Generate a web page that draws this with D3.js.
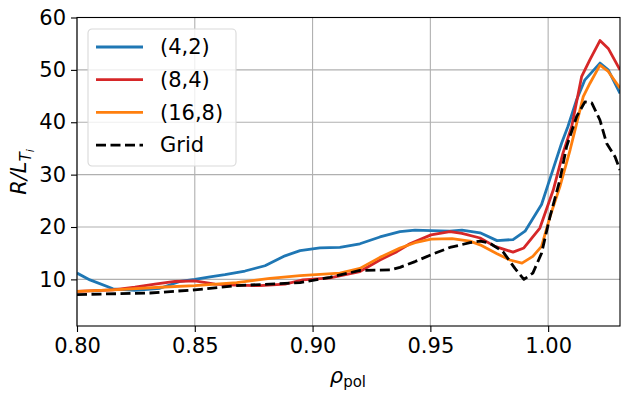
<!DOCTYPE html>
<html>
<head>
<meta charset="utf-8">
<script src="https://cdn.jsdelivr.net/npm/d3@7"></script>
<style>
  body { margin: 0; background: #fff; }
  text { font-family: "DejaVu Sans", sans-serif; }
</style>
</head>
<body>
<svg id="chart" width="630" height="395"></svg>
<script>
// rho_pol positions and R/L_Ti values
const x42 = [0.800, 0.8055, 0.8153, 0.8246, 0.8352, 0.8437, 0.850, 0.8565, 0.8628, 0.8713, 0.8798, 0.8883, 0.8947, 0.9031, 0.9116, 0.9201, 0.9286, 0.9371, 0.9435, 0.9503, 0.9583, 0.9634, 0.9711, 0.9783, 0.9851, 0.9902, 0.9972, 1.0020, 1.0057, 1.0084, 1.0121, 1.0156, 1.0220, 1.0255, 1.0305];
const y42 = [11.2, 9.9, 8.2, 7.9, 8.3, 9.6, 10.0, 10.5, 10.9, 11.6, 12.6, 14.5, 15.5, 16.0, 16.1, 16.8, 18.1, 19.1, 19.4, 19.3, 19.2, 19.4, 18.9, 17.4, 17.6, 19.2, 24.3, 30.9, 36.0, 39.2, 44.3, 48.1, 51.3, 50.0, 45.5];

const x84 = [0.800, 0.8153, 0.8246, 0.8331, 0.8416, 0.850, 0.8586, 0.8671, 0.8777, 0.8883, 0.8959, 0.9074, 0.9201, 0.9286, 0.9358, 0.9413, 0.9503, 0.9583, 0.9634, 0.9711, 0.9774, 0.9851, 0.9897, 0.9965, 1.0022, 1.0063, 1.0100, 1.0142, 1.0177, 1.0220, 1.0255, 1.0305];
const y84 = [7.7, 8.0, 8.5, 9.1, 9.6, 9.7, 9.1, 8.9, 8.8, 9.1, 9.9, 10.3, 11.5, 13.7, 15.3, 16.8, 18.5, 19.1, 18.8, 17.9, 16.3, 15.2, 16.0, 19.8, 27.1, 34.1, 39.2, 48.7, 51.9, 55.6, 54.1, 50.0];

const x168 = [0.800, 0.8153, 0.8352, 0.850, 0.8678, 0.8819, 0.8947, 0.9116, 0.9201, 0.9286, 0.9371, 0.9435, 0.9503, 0.9592, 0.9668, 0.9711, 0.9783, 0.9838, 0.9889, 0.9935, 0.9972, 1.0008, 1.0050, 1.0093, 1.0114, 1.0149, 1.0177, 1.0220, 1.0255, 1.0305];
const y168 = [7.7, 8.0, 8.5, 8.8, 9.4, 10.2, 10.7, 11.2, 12.1, 14.2, 16.0, 17.0, 17.7, 17.8, 17.3, 16.6, 14.9, 13.7, 13.1, 14.4, 16.3, 22.0, 27.7, 34.7, 38.5, 44.9, 47.4, 50.9, 49.7, 46.5];

const xGrid = [0.800, 0.8310, 0.850, 0.8678, 0.8819, 0.8947, 0.9074, 0.9201, 0.9329, 0.9371, 0.9435, 0.9503, 0.9583, 0.9668, 0.9711, 0.9753, 0.9808, 0.9859, 0.9897, 0.9935, 0.9972, 1.0008, 1.0050, 1.0078, 1.0121, 1.0156, 1.0185, 1.0220, 1.0248, 1.0284, 1.0305];
const yGrid = [7.1, 7.4, 8.0, 8.8, 9.1, 9.4, 10.4, 11.7, 11.8, 12.3, 13.4, 14.7, 16.1, 17.0, 17.3, 16.9, 15.3, 12.1, 10.0, 11.2, 15.0, 22.0, 29.0, 35.3, 41.1, 43.9, 43.7, 40.4, 36.0, 33.4, 30.9];

const xTicks = [0.80, 0.85, 0.90, 0.95, 1.00];
const yTicks = [10, 20, 30, 40, 50, 60];

const series = [
  {label: "(4,2)", xs: x42, ys: y42, color: "#1f77b4", dash: null},
  {label: "(8,4)", xs: x84, ys: y84, color: "#d62728", dash: null},
  {label: "(16,8)", xs: x168, ys: y168, color: "#ff7f0e", dash: null},
  {label: "Grid", xs: xGrid, ys: yGrid, color: "#000", dash: "10,4.5"}
];

const W = 630, H = 395;
const margin = {top: 17.5, right: 10, bottom: 69, left: 77};
const fs = 21;

const svg = d3.select("#chart");

const x = d3.scaleLinear().domain([0.80, 1.0305]).range([margin.left, W - margin.right]);
const y = d3.scaleLinear().domain([1.1, 60]).range([H - margin.bottom, margin.top]);

// grid
svg.append("g")
  .selectAll("line")
  .data(xTicks)
  .join("line")
    .attr("x1", d => x(d)).attr("x2", d => x(d))
    .attr("y1", margin.top).attr("y2", H - margin.bottom)
    .attr("stroke", "#b0b0b0").attr("stroke-width", 1.1);

svg.append("g")
  .selectAll("line")
  .data(yTicks)
  .join("line")
    .attr("x1", margin.left).attr("x2", W - margin.right)
    .attr("y1", d => y(d)).attr("y2", d => y(d))
    .attr("stroke", "#b0b0b0").attr("stroke-width", 1.1);

// curves
const line = d3.line().x(d => x(d[0])).y(d => y(d[1]));

svg.append("defs").append("clipPath").attr("id", "clip")
  .append("rect")
    .attr("x", margin.left).attr("y", margin.top)
    .attr("width", W - margin.left - margin.right)
    .attr("height", H - margin.top - margin.bottom);

svg.append("g")
    .attr("clip-path", "url(#clip)")
  .selectAll("path")
  .data(series)
  .join("path")
    .attr("d", s => line(d3.zip(s.xs, s.ys)))
    .attr("fill", "none")
    .attr("stroke", s => s.color)
    .attr("stroke-width", 2.8)
    .attr("stroke-dasharray", s => s.dash)
    .attr("stroke-linejoin", "round");

// axes
const xAxis = svg.append("g")
    .attr("transform", `translate(0,${H - margin.bottom})`)
    .call(d3.axisBottom(x).tickValues(xTicks).tickFormat(d3.format(".2f")).tickSize(6).tickPadding(6));

const yAxis = svg.append("g")
    .attr("transform", `translate(${margin.left},0)`)
    .call(d3.axisLeft(y).tickValues(yTicks).tickSize(6).tickPadding(5));

[xAxis, yAxis].forEach(a => {
  a.select(".domain").remove();
  a.selectAll(".tick line").attr("stroke", "#000").attr("stroke-width", 1.1);
  a.selectAll(".tick text").attr("font-size", fs).attr("fill", "#000")
    .attr("font-family", "DejaVu Sans, sans-serif");
});

// frame
svg.append("rect")
    .attr("x", margin.left).attr("y", margin.top)
    .attr("width", W - margin.left - margin.right)
    .attr("height", H - margin.top - margin.bottom)
    .attr("fill", "none").attr("stroke", "#000").attr("stroke-width", 1.1);

// axis labels
const xl = svg.append("text")
    .attr("x", x(0.915)).attr("y", 383)
    .attr("text-anchor", "middle")
    .attr("font-size", fs);
xl.append("tspan").attr("font-style", "italic").text("ρ");
xl.append("tspan").attr("font-size", 15).attr("dy", 4).text("pol");

const yl = svg.append("text")
    .attr("transform", `translate(26,${y(30.5)}) rotate(-90)`)
    .attr("text-anchor", "middle")
    .attr("font-size", fs)
    .attr("font-style", "italic");
yl.append("tspan").text("R/L");
yl.append("tspan").attr("font-size", 15).attr("dy", 5).text("T");
yl.append("tspan").attr("font-size", 11).attr("dy", 3).text("i");

// legend
const leg = svg.append("g").attr("transform", "translate(88,29)");
leg.append("rect")
    .attr("width", 148).attr("height", 137)
    .attr("rx", 4)
    .attr("fill", "#fff").attr("fill-opacity", 0.8)
    .attr("stroke", "#d9d9d9").attr("stroke-width", 1.1);

const item = leg.selectAll("g.item")
  .data(series)
  .join("g")
    .attr("transform", (d, i) => `translate(0,${18 + i * 32.7})`);

item.append("line")
    .attr("x1", 8).attr("x2", 55)
    .attr("stroke", d => d.color)
    .attr("stroke-width", 2.8)
    .attr("stroke-dasharray", d => d.dash);

item.append("text")
    .attr("x", 72).attr("dy", "0.35em")
    .attr("font-size", fs)
    .text(d => d.label);
</script>
</body>
</html>
